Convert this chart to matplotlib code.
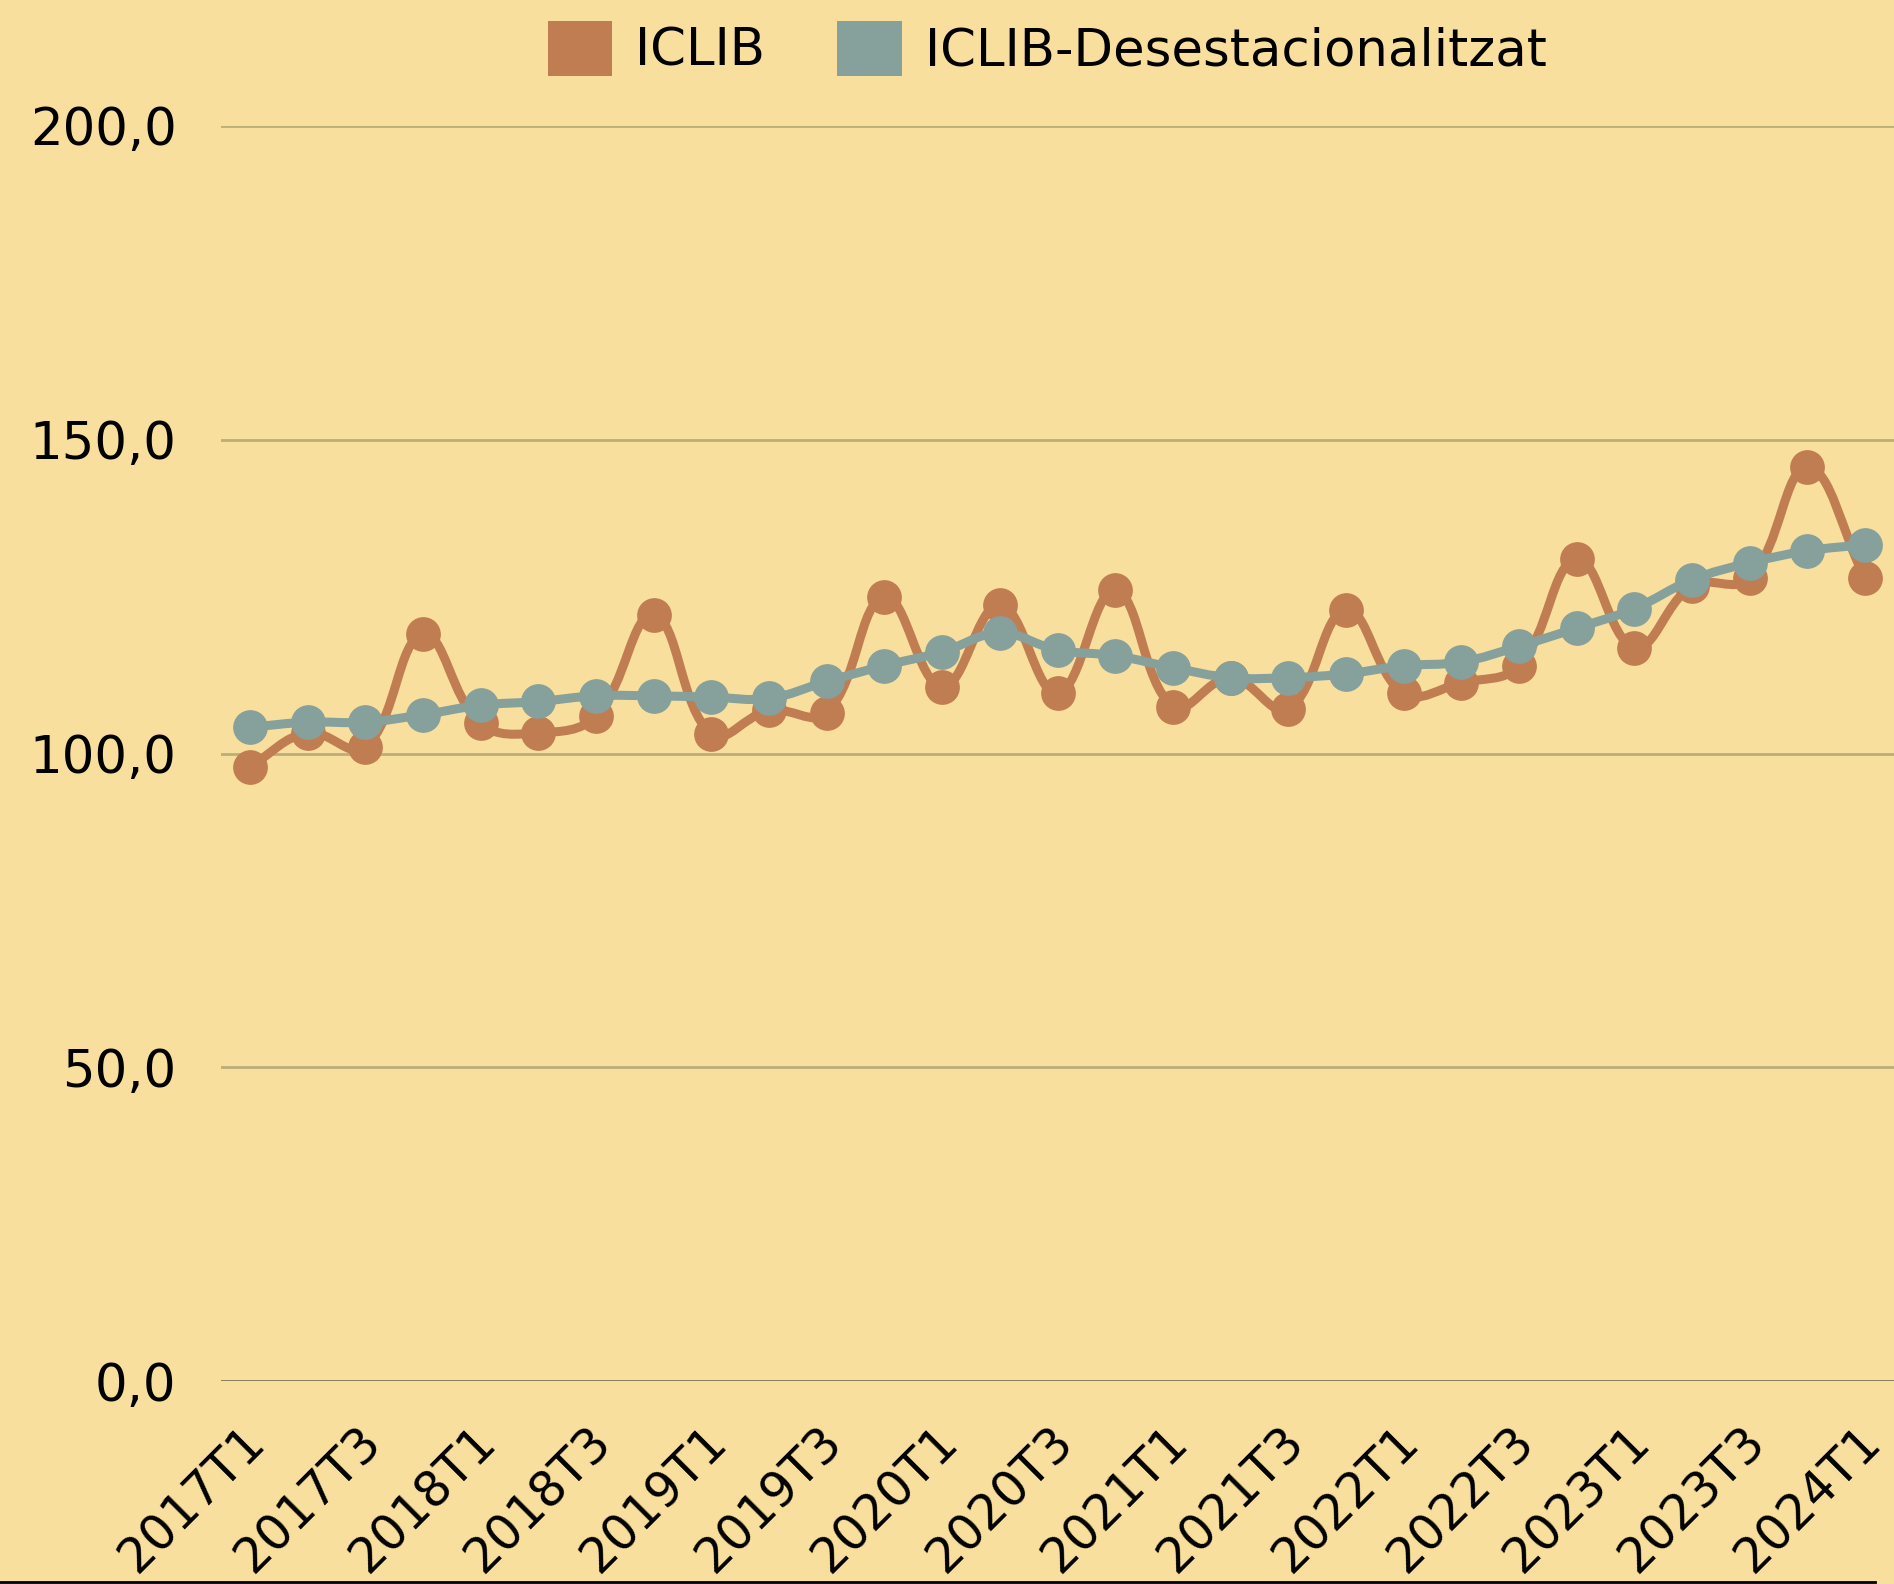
import numpy as np
import matplotlib
matplotlib.use("Agg")
import matplotlib.pyplot as plt
from matplotlib.path import Path
from matplotlib.patches import PathPatch, Patch
from matplotlib.lines import Line2D
from matplotlib.transforms import ScaledTranslation

plt.rcParams['font.family'] = ['DejaVu Sans']

quarters = [f"{y}T{q}" for y in range(2017, 2025) for q in range(1, 5)][:29]

iclib = [97.9, 103.3, 101.0, 119.0, 104.8, 103.3, 106.0, 122.1, 103.1, 106.9,
         106.5, 125.0, 110.6, 123.7, 109.6, 126.0, 107.5, 112.1, 107.1, 122.9,
         109.6, 111.3, 114.0, 131.0, 116.9, 126.7, 127.9, 145.6, 127.9]
iclib_desest = [104.2, 105.0, 105.0, 106.2, 107.7, 108.3, 109.2, 109.2, 109.0, 108.8,
                111.5, 114.0, 116.2, 119.2, 116.5, 115.6, 113.7, 112.1, 112.1, 112.7,
                114.0, 114.6, 117.1, 120.0, 123.1, 127.7, 130.4, 132.3, 133.3]

BG = '#F8DF9D'
ORANGE = '#C17D52'
TEAL = '#86A09C'
FS = 35

fig = plt.figure(figsize=(18.94, 15.84), dpi=100, facecolor=BG)
ax = fig.add_axes([0.1167, 0.128, 0.8833, 0.7925])
ax.set_facecolor(BG)
ax.set_xlim(-0.5, 28.5)
ax.set_ylim(0, 200)
for s in ax.spines.values():
    s.set_visible(False)

yt = [0, 50, 100, 150, 200]
ax.set_yticks(yt)
ax.set_yticklabels([f"{v},0" for v in yt])
for v in yt:
    ax.axhline(v, color='#7d7452' if v == 0 else '#bcae78', lw=2, zorder=1)

x = np.arange(len(quarters))
ax.set_xticks(x[::2])
ax.set_xticklabels(quarters[::2], rotation=45, ha='right', va='top',
                   rotation_mode='default')
ax.tick_params(axis='both', length=0, labelsize=FS, colors='black')
ax.tick_params(axis='y', pad=32, labelsize=37)
ax.tick_params(axis='x', pad=26)
# labels sit a bit to the right of their tick in the original
shift = ScaledTranslation(0.25, 0, fig.dpi_scale_trans)
for lab in ax.get_xticklabels():
    lab.set_transform(lab.get_transform() + shift)


def spline_path(xs, ys, tension=0.4):
    # chart.js style bezier through the points, computed in pixel space
    pts = ax.transData.transform(np.column_stack([xs, ys]))
    n = len(pts)
    cps = []
    for i in range(n):
        prev = pts[max(i - 1, 0)]
        cur = pts[i]
        nxt = pts[min(i + 1, n - 1)]
        d01 = np.hypot(*(cur - prev))
        d12 = np.hypot(*(nxt - cur))
        tot = d01 + d12 if d01 + d12 else 1
        fa = tension * d01 / tot
        fb = tension * d12 / tot
        cps.append((cur - fa * (nxt - prev), cur + fb * (nxt - prev)))
    verts = [pts[0]]
    codes = [Path.MOVETO]
    for i in range(n - 1):
        verts += [cps[i][1], cps[i + 1][0], pts[i + 1]]
        codes += [Path.CURVE4] * 3
    verts = ax.transData.inverted().transform(np.array(verts))
    return Path(verts, codes)


for ys, col, z in [(iclib, ORANGE, 3), (iclib_desest, TEAL, 5)]:
    ax.add_patch(PathPatch(spline_path(x, ys), facecolor='none', edgecolor=col,
                           lw=6.5, zorder=z, clip_on=False, capstyle='round'))
    ax.plot(x, ys, 'o', ms=24, color=col, zorder=z + 1, clip_on=False)

handles = [Patch(facecolor=ORANGE, label='ICLIB'),
           Patch(facecolor=TEAL, label='ICLIB-Desestacionalitzat')]
fig.legend(handles=handles, loc='center', bbox_to_anchor=(0.553, 0.969),
           ncol=2, frameon=False, fontsize=37, handlelength=1.25, handleheight=1.25,
           handletextpad=0.45, columnspacing=1.4)

fig.add_artist(Line2D([0, 0.99], [0.0015, 0.0015], color='black', lw=2,
                      transform=fig.transFigure))

fig.savefig('out.png', dpi=100, facecolor=BG)
